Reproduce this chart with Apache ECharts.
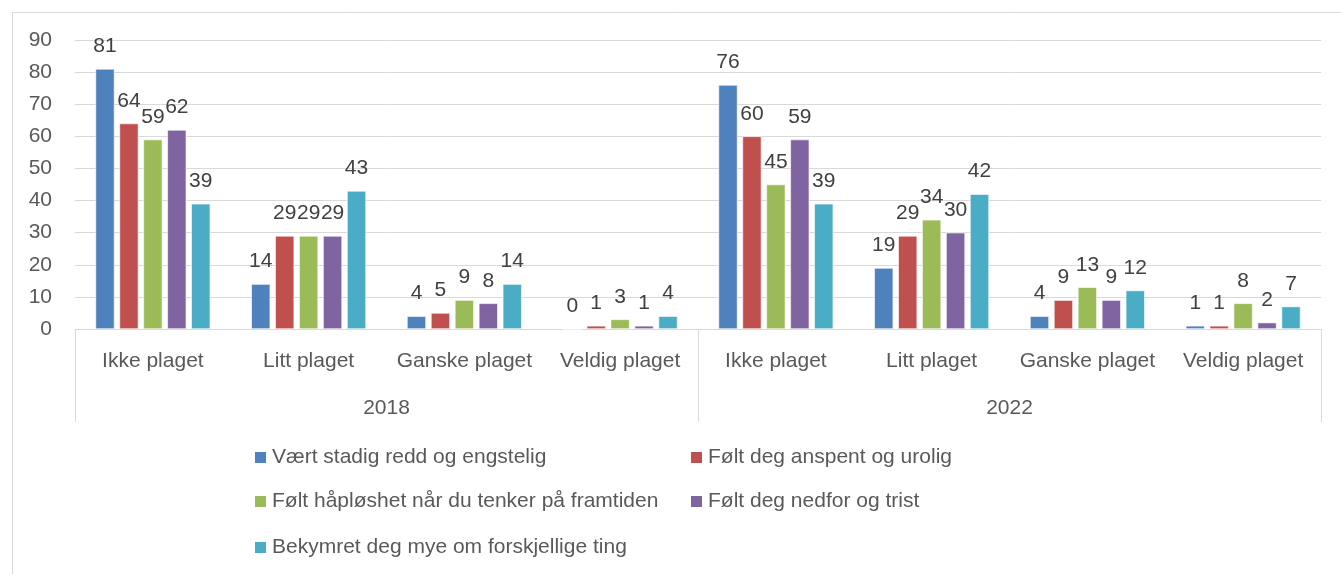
<!DOCTYPE html>
<html>
<head>
<meta charset="utf-8">
<script src="https://cdn.jsdelivr.net/npm/echarts@6/dist/echarts.min.js"></script>
<style>
  html, body { margin: 0; padding: 0; background: #ffffff; }
  #chart { width: 1341px; height: 574px; }
</style>
</head>
<body>
<div id="chart"></div>
<script>
// Response categories, repeated for each survey year
const categories = ['Ikke plaget', 'Litt plaget', 'Ganske plaget', 'Veldig plaget',
                    'Ikke plaget', 'Litt plaget', 'Ganske plaget', 'Veldig plaget'];
const years = ['2018', '2022'];
const yTicks = { min: 0, max: 90, interval: 10 };

const seriesNames = [
  'Vært stadig redd og engstelig',
  'Følt deg anspent og urolig',
  'Følt håpløshet når du tenker på framtiden',
  'Følt deg nedfor og trist',
  'Bekymret deg mye om forskjellige ting'
];
const reddEngstelig   = [81, 14, 4, 0, 76, 19, 4, 1];
const anspentUrolig   = [64, 29, 5, 1, 60, 29, 9, 1];
const haploshet       = [59, 29, 9, 3, 45, 34, 13, 8];
const nedforTrist     = [62, 29, 8, 1, 59, 30, 9, 2];
const bekymret        = [39, 43, 14, 4, 39, 42, 12, 7];
const seriesValues = [reddEngstelig, anspentUrolig, haploshet, nedforTrist, bekymret];

const colors = ['#4f81bd', '#c0504d', '#9bbb59', '#8064a2', '#4bacc6'];
const FONT = 'Liberation Sans';
const FS = 21;
const gridColor = '#d9d9d9';
const axisText = '#595959';

const chart = echarts.init(document.getElementById('chart'), null, { renderer: 'canvas' });

// legend: two columns, three rows
const legendPos = [
  { left: 253, top: 447 },
  { left: 689, top: 447 },
  { left: 253, top: 491 },
  { left: 689, top: 491 },
  { left: 253, top: 537 }
];

const option = {
  backgroundColor: '#ffffff',
  animation: false,
  color: colors,
  graphic: [{
    type: 'rect',
    left: 10, top: 10,
    shape: { width: 1340, height: 600 },
    style: { fill: 'none', stroke: gridColor, lineWidth: 1 },
    silent: true
  }],
  grid: { left: 75, right: 20, top: 40, bottom: 245, containLabel: false },
  legend: seriesNames.map((n, i) => ({
    data: [n],
    left: legendPos[i].left,
    top: legendPos[i].top,
    padding: 0,
    icon: 'rect',
    itemWidth: 13,
    itemHeight: 13,
    itemGap: 0,
    selectedMode: false,
    textStyle: { fontFamily: FONT, fontSize: FS, color: axisText, padding: [0, 0, 0, 0] }
  })),
  xAxis: [
    {
      type: 'category',
      data: categories,
      position: 'bottom',
      axisLine: { show: true, lineStyle: { color: gridColor, width: 1 } },
      axisTick: { show: false },
      axisLabel: { color: axisText, fontFamily: FONT, fontSize: FS, margin: 22, interval: 0 }
    },
    {
      type: 'category',
      data: years,
      position: 'bottom',
      offset: 0,
      axisLine: { show: false },
      axisTick: { show: true, length: 93, alignWithLabel: false, lineStyle: { color: gridColor, width: 1 } },
      axisLabel: { color: axisText, fontFamily: FONT, fontSize: FS, margin: 69, interval: 0 }
    }
  ],
  yAxis: {
    type: 'value',
    min: yTicks.min,
    max: yTicks.max,
    interval: yTicks.interval,
    axisLine: { show: false },
    axisTick: { show: false },
    splitLine: { lineStyle: { color: gridColor, width: 1 } },
    axisLabel: { color: axisText, fontFamily: FONT, fontSize: FS, margin: 23 }
  },
  series: seriesNames.map((n, i) => ({
    name: n,
    type: 'bar',
    xAxisIndex: 0,
    data: seriesValues[i],
    barWidth: 19,
    barGap: '26%',
    itemStyle: { color: colors[i], borderColor: '#ffffff', borderWidth: 0.6 },
    label: {
      show: true,
      position: 'top',
      distance: 12,
      color: '#404040',
      fontFamily: FONT,
      fontSize: FS
    }
  }))
};

chart.setOption(option);
</script>
</body>
</html>
